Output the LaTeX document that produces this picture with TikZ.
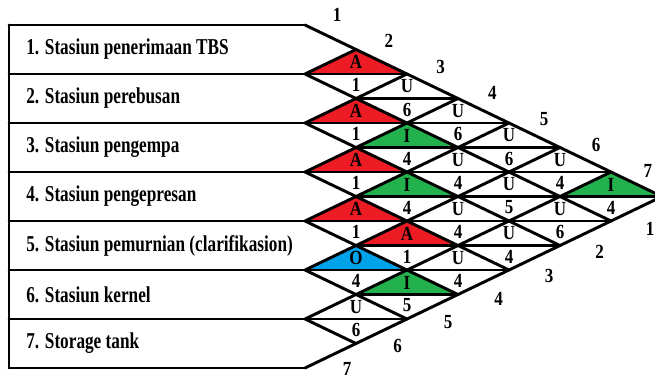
\documentclass[tikz,border=0pt]{standalone}
\usepackage{graphicx}
\usepackage{fontspec}
\setmainfont{Liberation Serif}
\usepackage{tikz}

\definecolor{arcred}{RGB}{237,28,36}
\definecolor{arcgreen}{RGB}{34,177,76}
\definecolor{arcblue}{RGB}{0,162,232}

\newcommand{\rowtext}[1]{\scalebox{0.76}[1]{\fontsize{17}{19}\selectfont\bfseries #1}}
\newcommand{\celltext}[1]{\scalebox{0.85}[1]{\fontsize{15}{17}\selectfont\bfseries #1}}

\tikzset{
  arcline/.style={line width=2.2pt, line cap=round, line join=round},
  rowlabel/.style={anchor=west, inner sep=0.75pt},
  code/.style={inner sep=0.75pt},
}

\begin{document}
\begin{tikzpicture}[x=0.75pt,y=0.75pt,yscale=-1,xscale=1]
\useasboundingbox (0,0) rectangle (655,378);
\clip (0,0) rectangle (655,378);

% coloured upper halves: i/j/colour
\foreach \i/\j/\c in {1/2/arcred, 2/3/arcred, 3/4/arcred, 4/5/arcred, 4/6/arcred,
                      5/6/arcblue, 2/4/arcgreen, 3/5/arcgreen, 5/7/arcgreen, 1/7/arcgreen}
  \fill[\c] ({254+51*(\j-\i)},{25+24.5*(\i+\j-1)}) -- ++(51,-24.5) -- ++(51,24.5) -- cycle;

% row boxes
\foreach \k in {0,...,7}
  \draw[arcline] (9,{25+49*\k}) -- (305,{25+49*\k});
\draw[arcline] (9,25) -- (9,368);

% diagonals down and up from every row boundary
\foreach \k in {0,...,6}
  \draw[arcline] (305,{25+49*\k}) -- ++({51*(7-\k)},{24.5*(7-\k)});
\foreach \k in {1,...,7}
  \draw[arcline] (305,{25+49*\k}) -- ++({51*\k},{-24.5*\k});

% horizontal splits: level/left/right
\foreach \s/\a/\b in {3/0/2, 4/1/3, 5/0/4, 6/1/5, 7/0/6, 8/1/7, 9/0/6, 10/1/5, 11/0/4, 12/1/3, 13/0/2}
  \draw[arcline] ({305+51*\a},{25+24.5*(\s-1)}) -- ({305+51*\b},{25+24.5*(\s-1)});

% stations
\foreach \k/\txt in {1/{1. Stasiun penerimaan TBS}, 2/{2. Stasiun perebusan}, 3/{3. Stasiun pengempa},
                     4/{4. Stasiun pengepresan}, 5/{5. Stasiun pemurnian (clarifikasion)},
                     6/{6. Stasiun kernel}, 7/{7. Storage tank}}
  \node[rowlabel] (row\k) at (25,{0.5+49*\k}) {\rowtext{\txt}};

% codes: i/j/relation/reason
\foreach \i/\j/\u/\l in {1/2/A/1, 2/3/A/1, 3/4/A/1, 4/5/A/1, 5/6/O/4, 6/7/U/6,
                         1/3/U/6, 2/4/I/4, 3/5/I/4, 4/6/A/1, 5/7/I/5,
                         1/4/U/6, 2/5/U/4, 3/6/U/4, 4/7/U/4,
                         1/5/U/6, 2/6/U/5, 3/7/U/4,
                         1/6/U/4, 2/7/U/6, 1/7/I/4}{
  \node[code] (u\i\j) at ({305+51*(\j-\i)},{13+24.5*(\i+\j-1)}) {\celltext{\u}};
  \node[code] (l\i\j) at ({305+51*(\j-\i)},{36+24.5*(\i+\j-1)}) {\celltext{\l}};
}

% numbers along both outer edges
\foreach \k in {1,...,7}{
  \node[code] (top\k) at ({337+51.8*(\k-1)},{15+26*(\k-1)}) {\celltext{\k}};
  \node[code] (bot\k) at ({650-50.5*(\k-1)},{229+23.3*(\k-1)}) {\celltext{\k}};
}
\end{tikzpicture}
\end{document}
